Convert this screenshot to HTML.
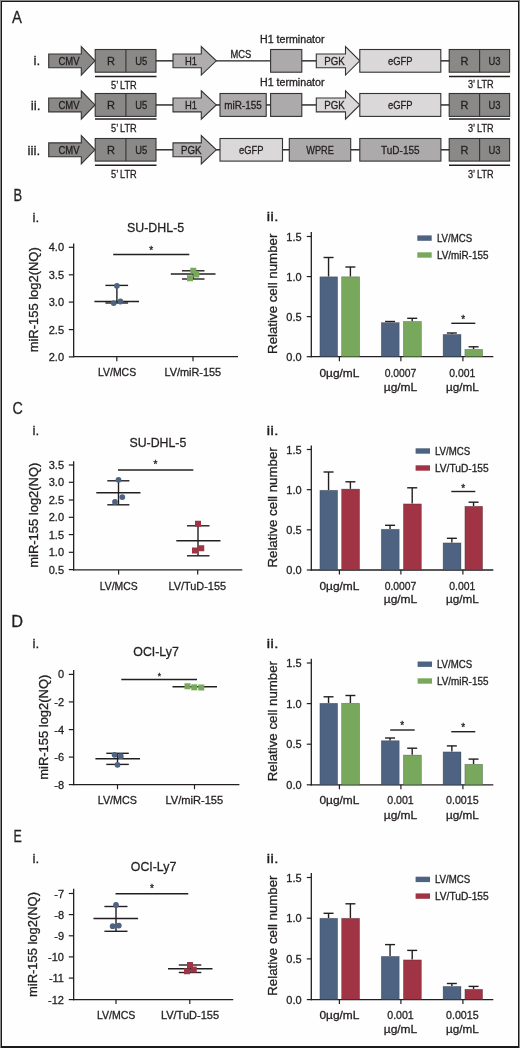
<!DOCTYPE html>
<html><head><meta charset="utf-8">
<style>
html,body{margin:0;padding:0;background:#fff;}
body{width:520px;height:1048px;overflow:hidden;position:relative;}
#frame{position:absolute;left:0;top:0;width:520px;height:1048px;background:#8a8a8a;}
#inner{position:absolute;left:1px;top:1px;width:518px;height:1047px;background:#1a1a1a;}
#white{position:absolute;left:2px;top:2px;width:516px;height:1044px;background:#fefefe;}
svg{position:absolute;left:0;top:0;will-change:transform;}
text{font-family:"Liberation Sans", sans-serif;fill:#231f20;stroke:#231f20;stroke-width:0.3px;}
</style></head><body>
<div id="frame"></div><div id="inner"></div><div id="white"></div>
<svg width="520" height="1048" viewBox="0 0 520 1048">
<text x="12.00" y="23.00" font-size="16" textLength="9.90" lengthAdjust="spacingAndGlyphs">A</text>
<polygon points="48.70,53.95 81.30,53.95 81.30,46.65 95.00,60.85 81.30,75.05 81.30,67.75 48.70,67.75" fill="#8a8988" stroke="#333" stroke-width="1.1" stroke-linejoin="miter"/>
<text x="69.00" y="65.00" font-size="10.5" text-anchor="middle" textLength="21.00" lengthAdjust="spacingAndGlyphs">CMV</text>
<text x="33.60" y="65.00" font-size="13.5">i.</text>
<rect x="95.20" y="49.50" width="60.80" height="22.70" fill="#8a8988" stroke="#333" stroke-width="1.1"/>
<line x1="125.90" y1="49.50" x2="125.90" y2="72.20" stroke="#333" stroke-width="1.1"/>
<text x="111.00" y="65.00" font-size="11" text-anchor="middle">R</text>
<text x="141.20" y="65.00" font-size="11" text-anchor="middle" textLength="12.00" lengthAdjust="spacingAndGlyphs">U5</text>
<line x1="95.00" y1="76.60" x2="156.50" y2="76.60" stroke="#231f20" stroke-width="1.5"/>
<text x="111.00" y="88.80" font-size="10.5" textLength="25.80" lengthAdjust="spacingAndGlyphs">5’ LTR</text>
<rect x="449.20" y="49.50" width="60.40" height="22.70" fill="#8a8988" stroke="#333" stroke-width="1.1"/>
<line x1="479.60" y1="49.50" x2="479.60" y2="72.20" stroke="#333" stroke-width="1.1"/>
<text x="464.40" y="65.00" font-size="11" text-anchor="middle">R</text>
<text x="494.60" y="65.00" font-size="11" text-anchor="middle" textLength="12.00" lengthAdjust="spacingAndGlyphs">U3</text>
<line x1="449.00" y1="76.60" x2="510.00" y2="76.60" stroke="#231f20" stroke-width="1.5"/>
<text x="468.00" y="87.80" font-size="10.5" textLength="25.60" lengthAdjust="spacingAndGlyphs">3’ LTR</text>
<line x1="156.00" y1="60.85" x2="173.50" y2="60.85" stroke="#231f20" stroke-width="1.4"/>
<line x1="216.00" y1="60.85" x2="270.50" y2="60.85" stroke="#231f20" stroke-width="1.4"/>
<line x1="301.80" y1="60.85" x2="316.50" y2="60.85" stroke="#231f20" stroke-width="1.4"/>
<line x1="441.00" y1="60.85" x2="449.20" y2="60.85" stroke="#231f20" stroke-width="1.4"/>
<polygon points="173.00,53.95 201.30,53.95 201.30,46.65 216.30,60.85 201.30,75.05 201.30,67.75 173.00,67.75" fill="#b0adae" stroke="#333" stroke-width="1.1" stroke-linejoin="miter"/>
<text x="191.00" y="65.00" font-size="11" text-anchor="middle" textLength="12.00" lengthAdjust="spacingAndGlyphs">H1</text>
<text x="230.50" y="57.50" font-size="10" textLength="20.80" lengthAdjust="spacingAndGlyphs">MCS</text>
<rect x="270.60" y="49.50" width="31.20" height="22.70" fill="#adaaab" stroke="#333" stroke-width="1.1"/>
<text x="260.00" y="42.50" font-size="10" textLength="64.50" lengthAdjust="spacingAndGlyphs">H1 terminator</text>
<polygon points="316.30,53.95 345.50,53.95 345.50,46.65 359.80,60.85 345.50,75.05 345.50,67.75 316.30,67.75" fill="#dbd8d9" stroke="#333" stroke-width="1.1" stroke-linejoin="miter"/>
<text x="334.60" y="65.00" font-size="11" text-anchor="middle" textLength="20.50" lengthAdjust="spacingAndGlyphs">PGK</text>
<rect x="359.80" y="49.50" width="81.00" height="22.70" fill="#dbd8d9" stroke="#333" stroke-width="1.1"/>
<text x="400.30" y="65.00" font-size="11" text-anchor="middle" textLength="24.50" lengthAdjust="spacingAndGlyphs">eGFP</text>
<polygon points="48.70,98.05 81.30,98.05 81.30,90.75 95.00,104.95 81.30,119.15 81.30,111.85 48.70,111.85" fill="#8a8988" stroke="#333" stroke-width="1.1" stroke-linejoin="miter"/>
<text x="69.00" y="109.00" font-size="10.5" text-anchor="middle" textLength="21.00" lengthAdjust="spacingAndGlyphs">CMV</text>
<text x="30.80" y="110.00" font-size="13.5">ii.</text>
<rect x="95.20" y="93.50" width="60.80" height="22.90" fill="#8a8988" stroke="#333" stroke-width="1.1"/>
<line x1="125.90" y1="93.50" x2="125.90" y2="116.40" stroke="#333" stroke-width="1.1"/>
<text x="111.00" y="109.00" font-size="11" text-anchor="middle">R</text>
<text x="141.20" y="109.00" font-size="11" text-anchor="middle" textLength="12.00" lengthAdjust="spacingAndGlyphs">U5</text>
<line x1="95.00" y1="118.90" x2="156.50" y2="118.90" stroke="#231f20" stroke-width="1.5"/>
<text x="111.00" y="132.00" font-size="10.5" textLength="25.80" lengthAdjust="spacingAndGlyphs">5’ LTR</text>
<rect x="449.20" y="93.50" width="60.40" height="22.90" fill="#8a8988" stroke="#333" stroke-width="1.1"/>
<line x1="479.60" y1="93.50" x2="479.60" y2="116.40" stroke="#333" stroke-width="1.1"/>
<text x="464.40" y="109.00" font-size="11" text-anchor="middle">R</text>
<text x="494.60" y="109.00" font-size="11" text-anchor="middle" textLength="12.00" lengthAdjust="spacingAndGlyphs">U3</text>
<line x1="449.00" y1="118.90" x2="510.00" y2="118.90" stroke="#231f20" stroke-width="1.5"/>
<text x="468.00" y="131.60" font-size="10.5" textLength="25.60" lengthAdjust="spacingAndGlyphs">3’ LTR</text>
<line x1="156.00" y1="104.95" x2="173.50" y2="104.95" stroke="#231f20" stroke-width="1.4"/>
<line x1="216.00" y1="104.95" x2="220.50" y2="104.95" stroke="#231f20" stroke-width="1.4"/>
<line x1="266.00" y1="104.95" x2="270.50" y2="104.95" stroke="#231f20" stroke-width="1.4"/>
<line x1="301.80" y1="104.95" x2="316.50" y2="104.95" stroke="#231f20" stroke-width="1.4"/>
<line x1="441.00" y1="104.95" x2="449.20" y2="104.95" stroke="#231f20" stroke-width="1.4"/>
<polygon points="173.00,98.05 201.30,98.05 201.30,90.75 216.30,104.95 201.30,119.15 201.30,111.85 173.00,111.85" fill="#b0adae" stroke="#333" stroke-width="1.1" stroke-linejoin="miter"/>
<text x="191.00" y="109.00" font-size="11" text-anchor="middle" textLength="12.00" lengthAdjust="spacingAndGlyphs">H1</text>
<rect x="220.00" y="93.50" width="46.20" height="22.90" fill="#adaaab" stroke="#333" stroke-width="1.1"/>
<text x="243.10" y="109.00" font-size="11" text-anchor="middle" textLength="37.50" lengthAdjust="spacingAndGlyphs">miR-155</text>
<rect x="270.60" y="93.50" width="31.20" height="22.90" fill="#adaaab" stroke="#333" stroke-width="1.1"/>
<text x="260.00" y="85.50" font-size="10" textLength="64.50" lengthAdjust="spacingAndGlyphs">H1 terminator</text>
<polygon points="316.30,98.05 345.50,98.05 345.50,90.75 359.80,104.95 345.50,119.15 345.50,111.85 316.30,111.85" fill="#dbd8d9" stroke="#333" stroke-width="1.1" stroke-linejoin="miter"/>
<text x="334.60" y="109.00" font-size="11" text-anchor="middle" textLength="20.50" lengthAdjust="spacingAndGlyphs">PGK</text>
<rect x="359.80" y="93.50" width="81.00" height="22.90" fill="#dbd8d9" stroke="#333" stroke-width="1.1"/>
<text x="400.30" y="109.00" font-size="11" text-anchor="middle" textLength="24.50" lengthAdjust="spacingAndGlyphs">eGFP</text>
<polygon points="48.70,142.90 81.30,142.90 81.30,135.60 95.00,149.80 81.30,164.00 81.30,156.70 48.70,156.70" fill="#8a8988" stroke="#333" stroke-width="1.1" stroke-linejoin="miter"/>
<text x="69.00" y="154.00" font-size="10.5" text-anchor="middle" textLength="21.00" lengthAdjust="spacingAndGlyphs">CMV</text>
<text x="27.60" y="155.00" font-size="13.5">iii.</text>
<rect x="95.20" y="138.50" width="60.80" height="22.60" fill="#8a8988" stroke="#333" stroke-width="1.1"/>
<line x1="125.90" y1="138.50" x2="125.90" y2="161.10" stroke="#333" stroke-width="1.1"/>
<text x="111.00" y="154.00" font-size="11" text-anchor="middle">R</text>
<text x="141.20" y="154.00" font-size="11" text-anchor="middle" textLength="12.00" lengthAdjust="spacingAndGlyphs">U5</text>
<line x1="95.00" y1="165.30" x2="156.50" y2="165.30" stroke="#231f20" stroke-width="1.5"/>
<text x="111.00" y="178.00" font-size="10.5" textLength="25.80" lengthAdjust="spacingAndGlyphs">5’ LTR</text>
<rect x="449.20" y="138.50" width="60.40" height="22.60" fill="#8a8988" stroke="#333" stroke-width="1.1"/>
<line x1="479.60" y1="138.50" x2="479.60" y2="161.10" stroke="#333" stroke-width="1.1"/>
<text x="464.40" y="154.00" font-size="11" text-anchor="middle">R</text>
<text x="494.60" y="154.00" font-size="11" text-anchor="middle" textLength="12.00" lengthAdjust="spacingAndGlyphs">U3</text>
<line x1="449.00" y1="165.30" x2="510.00" y2="165.30" stroke="#231f20" stroke-width="1.5"/>
<text x="468.00" y="178.00" font-size="10.5" textLength="25.60" lengthAdjust="spacingAndGlyphs">3’ LTR</text>
<line x1="156.00" y1="149.80" x2="173.50" y2="149.80" stroke="#231f20" stroke-width="1.4"/>
<line x1="216.00" y1="149.80" x2="220.50" y2="149.80" stroke="#231f20" stroke-width="1.4"/>
<line x1="282.50" y1="149.80" x2="289.50" y2="149.80" stroke="#231f20" stroke-width="1.4"/>
<line x1="350.70" y1="149.80" x2="360.00" y2="149.80" stroke="#231f20" stroke-width="1.4"/>
<line x1="441.00" y1="149.80" x2="449.20" y2="149.80" stroke="#231f20" stroke-width="1.4"/>
<polygon points="173.00,142.90 201.30,142.90 201.30,135.60 216.30,149.80 201.30,164.00 201.30,156.70 173.00,156.70" fill="#b0adae" stroke="#333" stroke-width="1.1" stroke-linejoin="miter"/>
<text x="191.30" y="154.00" font-size="11" text-anchor="middle" textLength="20.50" lengthAdjust="spacingAndGlyphs">PGK</text>
<rect x="220.00" y="138.50" width="62.50" height="22.60" fill="#dbd8d9" stroke="#333" stroke-width="1.1"/>
<text x="251.20" y="154.00" font-size="11" text-anchor="middle" textLength="24.50" lengthAdjust="spacingAndGlyphs">eGFP</text>
<rect x="289.30" y="138.50" width="61.40" height="22.60" fill="#adaaab" stroke="#333" stroke-width="1.1"/>
<text x="320.00" y="154.00" font-size="11" text-anchor="middle" textLength="27.50" lengthAdjust="spacingAndGlyphs">WPRE</text>
<rect x="359.80" y="138.50" width="81.10" height="22.60" fill="#adaaab" stroke="#333" stroke-width="1.1"/>
<text x="400.30" y="154.00" font-size="11" text-anchor="middle" textLength="38.50" lengthAdjust="spacingAndGlyphs">TuD-155</text>
<text x="13.50" y="200.50" font-size="16.5" textLength="8.60" lengthAdjust="spacingAndGlyphs">B</text>
<text x="32.60" y="222.00" font-size="13.5">i.</text>
<line x1="73.65" y1="243.50" x2="73.65" y2="357.30" stroke="#231f20" stroke-width="1.3"/>
<line x1="73.00" y1="356.70" x2="238.00" y2="356.70" stroke="#231f20" stroke-width="1.3"/>
<line x1="68.80" y1="247.30" x2="73.65" y2="247.30" stroke="#231f20" stroke-width="1.2"/>
<text x="64.00" y="251.30" font-size="11" text-anchor="end">4.0</text>
<line x1="68.80" y1="274.80" x2="73.65" y2="274.80" stroke="#231f20" stroke-width="1.2"/>
<text x="64.00" y="278.80" font-size="11" text-anchor="end">3.5</text>
<line x1="68.80" y1="302.10" x2="73.65" y2="302.10" stroke="#231f20" stroke-width="1.2"/>
<text x="64.00" y="306.10" font-size="11" text-anchor="end">3.0</text>
<line x1="68.80" y1="329.60" x2="73.65" y2="329.60" stroke="#231f20" stroke-width="1.2"/>
<text x="64.00" y="333.60" font-size="11" text-anchor="end">2.5</text>
<line x1="68.80" y1="356.90" x2="73.65" y2="356.90" stroke="#231f20" stroke-width="1.2"/>
<text x="64.00" y="360.90" font-size="11" text-anchor="end">2.0</text>
<line x1="116.80" y1="356.70" x2="116.80" y2="361.20" stroke="#231f20" stroke-width="1.2"/>
<line x1="193.00" y1="356.70" x2="193.00" y2="361.20" stroke="#231f20" stroke-width="1.2"/>
<text x="127.00" y="231.90" font-size="13.6" textLength="57.20" lengthAdjust="spacingAndGlyphs">SU-DHL-5</text>
<text x="98.00" y="376.30" font-size="11" textLength="38.10" lengthAdjust="spacingAndGlyphs">LV/MCS</text>
<text x="164.40" y="376.30" font-size="11" textLength="56.80" lengthAdjust="spacingAndGlyphs">LV/miR-155</text>
<text x="38.00" y="299.80" font-size="13" text-anchor="middle" textLength="105.00" lengthAdjust="spacingAndGlyphs" transform="rotate(-90 38.00 299.80)">miR-155 log2(NQ)</text>
<line x1="113.20" y1="254.50" x2="189.30" y2="254.50" stroke="#231f20" stroke-width="1.4"/>
<text x="151.30" y="253.90" font-size="10" text-anchor="middle">*</text>
<line x1="94.40" y1="301.50" x2="139.00" y2="301.50" stroke="#231f20" stroke-width="1.4"/>
<line x1="105.40" y1="285.40" x2="128.10" y2="285.40" stroke="#231f20" stroke-width="1.4"/>
<line x1="105.40" y1="303.00" x2="128.10" y2="303.00" stroke="#231f20" stroke-width="1.4"/>
<line x1="116.90" y1="285.40" x2="116.90" y2="303.00" stroke="#231f20" stroke-width="1.4"/>
<circle cx="116.90" cy="285.80" r="2.9" fill="#4e6381"/>
<circle cx="113.70" cy="303.10" r="2.9" fill="#4e6381"/>
<circle cx="120.40" cy="301.50" r="2.9" fill="#4e6381"/>
<line x1="170.80" y1="274.00" x2="215.50" y2="274.00" stroke="#231f20" stroke-width="1.4"/>
<line x1="182.00" y1="270.80" x2="204.50" y2="270.80" stroke="#231f20" stroke-width="1.4"/>
<line x1="182.00" y1="279.00" x2="204.50" y2="279.00" stroke="#231f20" stroke-width="1.4"/>
<line x1="193.20" y1="270.80" x2="193.20" y2="279.00" stroke="#231f20" stroke-width="1.4"/>
<rect x="190.25" y="267.75" width="6.0" height="6.0" fill="#78a85c"/>
<rect x="193.25" y="271.50" width="6.0" height="6.0" fill="#78a85c"/>
<rect x="187.00" y="275.25" width="6.0" height="6.0" fill="#78a85c"/>
<text x="12.60" y="414.00" font-size="16.5" textLength="10.30" lengthAdjust="spacingAndGlyphs">C</text>
<text x="32.60" y="435.00" font-size="13.5">i.</text>
<line x1="73.65" y1="461.20" x2="73.65" y2="570.50" stroke="#231f20" stroke-width="1.3"/>
<line x1="73.00" y1="569.90" x2="242.30" y2="569.90" stroke="#231f20" stroke-width="1.3"/>
<line x1="68.80" y1="465.00" x2="73.65" y2="465.00" stroke="#231f20" stroke-width="1.2"/>
<text x="64.00" y="469.00" font-size="11" text-anchor="end">3.5</text>
<line x1="68.80" y1="482.30" x2="73.65" y2="482.30" stroke="#231f20" stroke-width="1.2"/>
<text x="64.00" y="486.30" font-size="11" text-anchor="end">3.0</text>
<line x1="68.80" y1="500.00" x2="73.65" y2="500.00" stroke="#231f20" stroke-width="1.2"/>
<text x="64.00" y="504.00" font-size="11" text-anchor="end">2.5</text>
<line x1="68.80" y1="517.30" x2="73.65" y2="517.30" stroke="#231f20" stroke-width="1.2"/>
<text x="64.00" y="521.30" font-size="11" text-anchor="end">2.0</text>
<line x1="68.80" y1="534.60" x2="73.65" y2="534.60" stroke="#231f20" stroke-width="1.2"/>
<text x="64.00" y="538.60" font-size="11" text-anchor="end">1.5</text>
<line x1="68.80" y1="552.30" x2="73.65" y2="552.30" stroke="#231f20" stroke-width="1.2"/>
<text x="64.00" y="556.30" font-size="11" text-anchor="end">1.0</text>
<line x1="68.80" y1="569.60" x2="73.65" y2="569.60" stroke="#231f20" stroke-width="1.2"/>
<text x="64.00" y="573.60" font-size="11" text-anchor="end">0.5</text>
<line x1="118.60" y1="569.90" x2="118.60" y2="574.40" stroke="#231f20" stroke-width="1.2"/>
<line x1="197.70" y1="569.90" x2="197.70" y2="574.40" stroke="#231f20" stroke-width="1.2"/>
<text x="129.50" y="447.40" font-size="13.6" textLength="56.80" lengthAdjust="spacingAndGlyphs">SU-DHL-5</text>
<text x="99.80" y="589.80" font-size="11" textLength="37.90" lengthAdjust="spacingAndGlyphs">LV/MCS</text>
<text x="168.50" y="589.80" font-size="11" textLength="57.50" lengthAdjust="spacingAndGlyphs">LV/TuD-155</text>
<text x="37.80" y="515.20" font-size="13" text-anchor="middle" textLength="105.00" lengthAdjust="spacingAndGlyphs" transform="rotate(-90 37.80 515.20)">miR-155 log2(NQ)</text>
<line x1="118.00" y1="470.00" x2="193.30" y2="470.00" stroke="#231f20" stroke-width="1.4"/>
<text x="155.50" y="468.20" font-size="10" text-anchor="middle">*</text>
<line x1="96.30" y1="492.70" x2="140.50" y2="492.70" stroke="#231f20" stroke-width="1.4"/>
<line x1="107.30" y1="480.80" x2="129.40" y2="480.80" stroke="#231f20" stroke-width="1.4"/>
<line x1="107.30" y1="504.80" x2="129.40" y2="504.80" stroke="#231f20" stroke-width="1.4"/>
<line x1="118.50" y1="480.80" x2="118.50" y2="504.80" stroke="#231f20" stroke-width="1.4"/>
<circle cx="118.50" cy="479.80" r="2.9" fill="#4e6381"/>
<circle cx="122.30" cy="497.10" r="2.9" fill="#4e6381"/>
<circle cx="115.00" cy="501.90" r="2.9" fill="#4e6381"/>
<line x1="176.30" y1="540.80" x2="220.50" y2="540.80" stroke="#231f20" stroke-width="1.4"/>
<line x1="187.00" y1="525.80" x2="209.50" y2="525.80" stroke="#231f20" stroke-width="1.4"/>
<line x1="187.00" y1="555.80" x2="209.50" y2="555.80" stroke="#231f20" stroke-width="1.4"/>
<line x1="198.00" y1="525.80" x2="198.00" y2="555.80" stroke="#231f20" stroke-width="1.4"/>
<rect x="195.00" y="520.75" width="6.0" height="6.0" fill="#a03444"/>
<rect x="198.25" y="545.25" width="6.0" height="6.0" fill="#a03444"/>
<rect x="192.00" y="547.50" width="6.0" height="6.0" fill="#a03444"/>
<text x="11.20" y="627.00" font-size="16.5" textLength="11.80" lengthAdjust="spacingAndGlyphs">D</text>
<text x="32.60" y="648.00" font-size="13.5">i.</text>
<line x1="73.65" y1="670.00" x2="73.65" y2="785.30" stroke="#231f20" stroke-width="1.3"/>
<line x1="73.00" y1="784.70" x2="239.40" y2="784.70" stroke="#231f20" stroke-width="1.3"/>
<line x1="68.80" y1="674.40" x2="73.65" y2="674.40" stroke="#231f20" stroke-width="1.2"/>
<text x="64.00" y="678.40" font-size="11" text-anchor="end">0</text>
<line x1="68.80" y1="701.90" x2="73.65" y2="701.90" stroke="#231f20" stroke-width="1.2"/>
<text x="64.00" y="705.90" font-size="11" text-anchor="end">-2</text>
<line x1="68.80" y1="729.60" x2="73.65" y2="729.60" stroke="#231f20" stroke-width="1.2"/>
<text x="64.00" y="733.60" font-size="11" text-anchor="end">-4</text>
<line x1="68.80" y1="757.10" x2="73.65" y2="757.10" stroke="#231f20" stroke-width="1.2"/>
<text x="64.00" y="761.10" font-size="11" text-anchor="end">-6</text>
<line x1="68.80" y1="784.60" x2="73.65" y2="784.60" stroke="#231f20" stroke-width="1.2"/>
<text x="64.00" y="788.60" font-size="11" text-anchor="end">-8</text>
<line x1="117.50" y1="784.70" x2="117.50" y2="789.20" stroke="#231f20" stroke-width="1.2"/>
<line x1="194.50" y1="784.70" x2="194.50" y2="789.20" stroke="#231f20" stroke-width="1.2"/>
<text x="133.30" y="656.40" font-size="13.6" textLength="45.50" lengthAdjust="spacingAndGlyphs">OCI-Ly7</text>
<text x="97.80" y="803.80" font-size="11" textLength="39.10" lengthAdjust="spacingAndGlyphs">LV/MCS</text>
<text x="165.50" y="803.80" font-size="11" textLength="57.60" lengthAdjust="spacingAndGlyphs">LV/miR-155</text>
<text x="48.20" y="727.20" font-size="13" text-anchor="middle" textLength="105.00" lengthAdjust="spacingAndGlyphs" transform="rotate(-90 48.20 727.20)">miR-155 log2(NQ)</text>
<line x1="121.30" y1="679.50" x2="197.00" y2="679.50" stroke="#231f20" stroke-width="1.4"/>
<text x="159.30" y="678.70" font-size="8.5" text-anchor="middle">*</text>
<line x1="95.40" y1="758.70" x2="140.00" y2="758.70" stroke="#231f20" stroke-width="1.4"/>
<line x1="106.30" y1="753.30" x2="128.80" y2="753.30" stroke="#231f20" stroke-width="1.4"/>
<line x1="106.30" y1="764.40" x2="128.80" y2="764.40" stroke="#231f20" stroke-width="1.4"/>
<line x1="117.50" y1="753.30" x2="117.50" y2="764.40" stroke="#231f20" stroke-width="1.4"/>
<circle cx="114.60" cy="754.80" r="2.9" fill="#4e6381"/>
<circle cx="120.80" cy="756.20" r="2.9" fill="#4e6381"/>
<circle cx="117.50" cy="764.80" r="2.9" fill="#4e6381"/>
<line x1="172.50" y1="686.80" x2="217.00" y2="686.80" stroke="#231f20" stroke-width="1.4"/>
<line x1="194.00" y1="686.80" x2="194.00" y2="686.80" stroke="#231f20" stroke-width="1.4"/>
<line x1="194.00" y1="686.80" x2="194.00" y2="686.80" stroke="#231f20" stroke-width="1.4"/>
<line x1="194.00" y1="686.80" x2="194.00" y2="686.80" stroke="#231f20" stroke-width="1.4"/>
<rect x="184.50" y="683.25" width="6.0" height="6.0" fill="#78a85c"/>
<rect x="191.25" y="684.30" width="6.0" height="6.0" fill="#78a85c"/>
<rect x="198.25" y="684.50" width="6.0" height="6.0" fill="#78a85c"/>
<text x="13.60" y="842.00" font-size="16.5" textLength="8.30" lengthAdjust="spacingAndGlyphs">E</text>
<text x="32.60" y="863.00" font-size="13.5">i.</text>
<line x1="73.65" y1="888.70" x2="73.65" y2="1000.20" stroke="#231f20" stroke-width="1.3"/>
<line x1="73.00" y1="999.60" x2="233.20" y2="999.60" stroke="#231f20" stroke-width="1.3"/>
<line x1="68.80" y1="893.50" x2="73.65" y2="893.50" stroke="#231f20" stroke-width="1.2"/>
<text x="64.00" y="897.50" font-size="11" text-anchor="end">-7</text>
<line x1="68.80" y1="914.60" x2="73.65" y2="914.60" stroke="#231f20" stroke-width="1.2"/>
<text x="64.00" y="918.60" font-size="11" text-anchor="end">-8</text>
<line x1="68.80" y1="935.80" x2="73.65" y2="935.80" stroke="#231f20" stroke-width="1.2"/>
<text x="64.00" y="939.80" font-size="11" text-anchor="end">-9</text>
<line x1="68.80" y1="956.90" x2="73.65" y2="956.90" stroke="#231f20" stroke-width="1.2"/>
<text x="64.00" y="960.90" font-size="11" text-anchor="end">-10</text>
<line x1="68.80" y1="978.10" x2="73.65" y2="978.10" stroke="#231f20" stroke-width="1.2"/>
<text x="64.00" y="982.10" font-size="11" text-anchor="end">-11</text>
<line x1="68.80" y1="999.60" x2="73.65" y2="999.60" stroke="#231f20" stroke-width="1.2"/>
<text x="64.00" y="1003.60" font-size="11" text-anchor="end">-12</text>
<line x1="116.00" y1="999.60" x2="116.00" y2="1004.10" stroke="#231f20" stroke-width="1.2"/>
<line x1="189.80" y1="999.60" x2="189.80" y2="1004.10" stroke="#231f20" stroke-width="1.2"/>
<text x="130.80" y="870.70" font-size="13.6" textLength="45.50" lengthAdjust="spacingAndGlyphs">OCI-Ly7</text>
<text x="96.90" y="1019.20" font-size="11" textLength="38.50" lengthAdjust="spacingAndGlyphs">LV/MCS</text>
<text x="160.90" y="1019.20" font-size="11" textLength="58.20" lengthAdjust="spacingAndGlyphs">LV/TuD-155</text>
<text x="37.00" y="944.50" font-size="13" text-anchor="middle" textLength="105.00" lengthAdjust="spacingAndGlyphs" transform="rotate(-90 37.00 944.50)">miR-155 log2(NQ)</text>
<line x1="115.50" y1="893.80" x2="188.30" y2="893.80" stroke="#231f20" stroke-width="1.4"/>
<text x="152.00" y="891.90" font-size="10" text-anchor="middle">*</text>
<line x1="93.50" y1="918.50" x2="138.10" y2="918.50" stroke="#231f20" stroke-width="1.4"/>
<line x1="104.40" y1="906.50" x2="127.50" y2="906.50" stroke="#231f20" stroke-width="1.4"/>
<line x1="104.40" y1="931.30" x2="127.50" y2="931.30" stroke="#231f20" stroke-width="1.4"/>
<line x1="116.00" y1="906.50" x2="116.00" y2="931.30" stroke="#231f20" stroke-width="1.4"/>
<circle cx="116.00" cy="905.00" r="2.9" fill="#4e6381"/>
<circle cx="112.70" cy="926.20" r="2.9" fill="#4e6381"/>
<circle cx="118.80" cy="925.60" r="2.9" fill="#4e6381"/>
<line x1="168.00" y1="968.80" x2="212.50" y2="968.80" stroke="#231f20" stroke-width="1.4"/>
<line x1="178.80" y1="965.00" x2="201.30" y2="965.00" stroke="#231f20" stroke-width="1.4"/>
<line x1="178.80" y1="972.50" x2="201.30" y2="972.50" stroke="#231f20" stroke-width="1.4"/>
<line x1="190.00" y1="965.00" x2="190.00" y2="972.50" stroke="#231f20" stroke-width="1.4"/>
<rect x="187.00" y="962.00" width="6.0" height="6.0" fill="#a03444"/>
<rect x="190.75" y="966.50" width="6.0" height="6.0" fill="#a03444"/>
<rect x="184.00" y="968.25" width="6.0" height="6.0" fill="#a03444"/>
<text x="266.60" y="221.30" font-size="13.5" textLength="12.00" lengthAdjust="spacingAndGlyphs">ii.</text>
<line x1="311.30" y1="232.00" x2="311.30" y2="357.30" stroke="#231f20" stroke-width="1.3"/>
<line x1="310.70" y1="356.70" x2="493.30" y2="356.70" stroke="#231f20" stroke-width="1.3"/>
<line x1="306.80" y1="236.50" x2="311.30" y2="236.50" stroke="#231f20" stroke-width="1.2"/>
<text x="301.60" y="240.50" font-size="11" text-anchor="end">1.5</text>
<line x1="306.80" y1="276.57" x2="311.30" y2="276.57" stroke="#231f20" stroke-width="1.2"/>
<text x="301.60" y="280.57" font-size="11" text-anchor="end">1.0</text>
<line x1="306.80" y1="316.63" x2="311.30" y2="316.63" stroke="#231f20" stroke-width="1.2"/>
<text x="301.60" y="320.63" font-size="11" text-anchor="end">0.5</text>
<line x1="306.80" y1="356.70" x2="311.30" y2="356.70" stroke="#231f20" stroke-width="1.2"/>
<text x="301.60" y="360.70" font-size="11" text-anchor="end">0.0</text>
<line x1="339.40" y1="356.70" x2="339.40" y2="361.20" stroke="#231f20" stroke-width="1.2"/>
<line x1="400.90" y1="356.70" x2="400.90" y2="361.20" stroke="#231f20" stroke-width="1.2"/>
<line x1="462.90" y1="356.70" x2="462.90" y2="361.20" stroke="#231f20" stroke-width="1.2"/>
<text x="277.00" y="293.80" font-size="13" text-anchor="middle" textLength="120.30" lengthAdjust="spacingAndGlyphs" transform="rotate(-90 277.00 293.80)">Relative cell number</text>
<rect x="417.30" y="235.40" width="14.40" height="5.40" fill="#4e6381"/>
<text x="436.90" y="241.60" font-size="10" textLength="35.20" lengthAdjust="spacingAndGlyphs">LV/MCS</text>
<rect x="417.30" y="252.30" width="14.40" height="5.40" fill="#78a85c"/>
<text x="436.90" y="258.50" font-size="10" textLength="51.50" lengthAdjust="spacingAndGlyphs">LV/miR-155</text>
<line x1="328.55" y1="257.50" x2="328.55" y2="276.50" stroke="#231f20" stroke-width="1.4"/>
<line x1="323.55" y1="257.50" x2="333.55" y2="257.50" stroke="#231f20" stroke-width="1.4"/>
<rect x="319.90" y="276.80" width="17.70" height="79.90" fill="#4e6381" stroke="rgba(20,20,30,0.35)" stroke-width="0.7"/>
<line x1="350.40" y1="267.00" x2="350.40" y2="276.50" stroke="#231f20" stroke-width="1.4"/>
<line x1="345.40" y1="267.00" x2="355.40" y2="267.00" stroke="#231f20" stroke-width="1.4"/>
<rect x="341.60" y="276.80" width="18.00" height="79.90" fill="#78a85c" stroke="rgba(20,20,30,0.35)" stroke-width="0.7"/>
<line x1="390.05" y1="321.50" x2="390.05" y2="322.30" stroke="#231f20" stroke-width="1.4"/>
<line x1="385.05" y1="321.50" x2="395.05" y2="321.50" stroke="#231f20" stroke-width="1.4"/>
<rect x="381.30" y="322.60" width="17.90" height="34.10" fill="#4e6381" stroke="rgba(20,20,30,0.35)" stroke-width="0.7"/>
<line x1="412.20" y1="318.30" x2="412.20" y2="321.20" stroke="#231f20" stroke-width="1.4"/>
<line x1="407.20" y1="318.30" x2="417.20" y2="318.30" stroke="#231f20" stroke-width="1.4"/>
<rect x="403.40" y="321.50" width="18.00" height="35.20" fill="#78a85c" stroke="rgba(20,20,30,0.35)" stroke-width="0.7"/>
<line x1="451.85" y1="333.00" x2="451.85" y2="334.10" stroke="#231f20" stroke-width="1.4"/>
<line x1="446.85" y1="333.00" x2="456.85" y2="333.00" stroke="#231f20" stroke-width="1.4"/>
<rect x="443.10" y="334.40" width="17.90" height="22.30" fill="#4e6381" stroke="rgba(20,20,30,0.35)" stroke-width="0.7"/>
<line x1="473.55" y1="346.80" x2="473.55" y2="349.10" stroke="#231f20" stroke-width="1.4"/>
<line x1="468.55" y1="346.80" x2="478.55" y2="346.80" stroke="#231f20" stroke-width="1.4"/>
<rect x="464.90" y="349.40" width="17.70" height="7.30" fill="#78a85c" stroke="rgba(20,20,30,0.35)" stroke-width="0.7"/>
<line x1="451.30" y1="323.30" x2="475.30" y2="323.30" stroke="#231f20" stroke-width="1.4"/>
<text x="463.20" y="322.60" font-size="10" text-anchor="middle">*</text>
<text x="339.40" y="377.00" font-size="11" text-anchor="middle" textLength="40.00" lengthAdjust="spacingAndGlyphs">0µg/mL</text>
<text x="400.50" y="377.00" font-size="11" text-anchor="middle" textLength="31.70" lengthAdjust="spacingAndGlyphs">0.0007</text>
<text x="400.50" y="390.80" font-size="11" text-anchor="middle" textLength="33.50" lengthAdjust="spacingAndGlyphs">µg/mL</text>
<text x="462.30" y="377.00" font-size="11" text-anchor="middle" textLength="26.00" lengthAdjust="spacingAndGlyphs">0.001</text>
<text x="462.30" y="390.80" font-size="11" text-anchor="middle" textLength="32.80" lengthAdjust="spacingAndGlyphs">µg/mL</text>
<text x="266.60" y="435.00" font-size="13.5" textLength="12.00" lengthAdjust="spacingAndGlyphs">ii.</text>
<line x1="311.30" y1="445.50" x2="311.30" y2="570.60" stroke="#231f20" stroke-width="1.3"/>
<line x1="310.70" y1="570.00" x2="493.30" y2="570.00" stroke="#231f20" stroke-width="1.3"/>
<line x1="306.80" y1="449.50" x2="311.30" y2="449.50" stroke="#231f20" stroke-width="1.2"/>
<text x="301.60" y="453.50" font-size="11" text-anchor="end">1.5</text>
<line x1="306.80" y1="489.67" x2="311.30" y2="489.67" stroke="#231f20" stroke-width="1.2"/>
<text x="301.60" y="493.67" font-size="11" text-anchor="end">1.0</text>
<line x1="306.80" y1="529.83" x2="311.30" y2="529.83" stroke="#231f20" stroke-width="1.2"/>
<text x="301.60" y="533.83" font-size="11" text-anchor="end">0.5</text>
<line x1="306.80" y1="570.00" x2="311.30" y2="570.00" stroke="#231f20" stroke-width="1.2"/>
<text x="301.60" y="574.00" font-size="11" text-anchor="end">0.0</text>
<line x1="339.40" y1="570.00" x2="339.40" y2="574.50" stroke="#231f20" stroke-width="1.2"/>
<line x1="400.90" y1="570.00" x2="400.90" y2="574.50" stroke="#231f20" stroke-width="1.2"/>
<line x1="462.90" y1="570.00" x2="462.90" y2="574.50" stroke="#231f20" stroke-width="1.2"/>
<text x="277.00" y="507.40" font-size="13" text-anchor="middle" textLength="120.30" lengthAdjust="spacingAndGlyphs" transform="rotate(-90 277.00 507.40)">Relative cell number</text>
<rect x="415.60" y="448.30" width="14.40" height="5.40" fill="#4e6381"/>
<text x="434.90" y="454.50" font-size="10" textLength="35.20" lengthAdjust="spacingAndGlyphs">LV/MCS</text>
<rect x="415.60" y="465.30" width="14.40" height="5.40" fill="#a03444"/>
<text x="434.90" y="471.50" font-size="10" textLength="53.80" lengthAdjust="spacingAndGlyphs">LV/TuD-155</text>
<line x1="328.55" y1="472.00" x2="328.55" y2="490.00" stroke="#231f20" stroke-width="1.4"/>
<line x1="323.55" y1="472.00" x2="333.55" y2="472.00" stroke="#231f20" stroke-width="1.4"/>
<rect x="319.90" y="490.30" width="17.70" height="79.70" fill="#4e6381" stroke="rgba(20,20,30,0.35)" stroke-width="0.7"/>
<line x1="350.40" y1="481.80" x2="350.40" y2="488.80" stroke="#231f20" stroke-width="1.4"/>
<line x1="345.40" y1="481.80" x2="355.40" y2="481.80" stroke="#231f20" stroke-width="1.4"/>
<rect x="341.60" y="489.10" width="18.00" height="80.90" fill="#a03444" stroke="rgba(20,20,30,0.35)" stroke-width="0.7"/>
<line x1="390.05" y1="525.30" x2="390.05" y2="529.00" stroke="#231f20" stroke-width="1.4"/>
<line x1="385.05" y1="525.30" x2="395.05" y2="525.30" stroke="#231f20" stroke-width="1.4"/>
<rect x="381.30" y="529.30" width="17.90" height="40.70" fill="#4e6381" stroke="rgba(20,20,30,0.35)" stroke-width="0.7"/>
<line x1="412.20" y1="487.80" x2="412.20" y2="503.60" stroke="#231f20" stroke-width="1.4"/>
<line x1="407.20" y1="487.80" x2="417.20" y2="487.80" stroke="#231f20" stroke-width="1.4"/>
<rect x="403.40" y="503.90" width="18.00" height="66.10" fill="#a03444" stroke="rgba(20,20,30,0.35)" stroke-width="0.7"/>
<line x1="451.85" y1="538.30" x2="451.85" y2="542.60" stroke="#231f20" stroke-width="1.4"/>
<line x1="446.85" y1="538.30" x2="456.85" y2="538.30" stroke="#231f20" stroke-width="1.4"/>
<rect x="443.10" y="542.90" width="17.90" height="27.10" fill="#4e6381" stroke="rgba(20,20,30,0.35)" stroke-width="0.7"/>
<line x1="473.55" y1="502.20" x2="473.55" y2="506.00" stroke="#231f20" stroke-width="1.4"/>
<line x1="468.55" y1="502.20" x2="478.55" y2="502.20" stroke="#231f20" stroke-width="1.4"/>
<rect x="464.90" y="506.30" width="17.70" height="63.70" fill="#a03444" stroke="rgba(20,20,30,0.35)" stroke-width="0.7"/>
<line x1="451.30" y1="491.50" x2="475.30" y2="491.50" stroke="#231f20" stroke-width="1.4"/>
<text x="463.20" y="491.60" font-size="10" text-anchor="middle">*</text>
<text x="339.40" y="589.60" font-size="11" text-anchor="middle" textLength="40.00" lengthAdjust="spacingAndGlyphs">0µg/mL</text>
<text x="400.50" y="589.60" font-size="11" text-anchor="middle" textLength="31.70" lengthAdjust="spacingAndGlyphs">0.0007</text>
<text x="400.50" y="603.00" font-size="11" text-anchor="middle" textLength="33.50" lengthAdjust="spacingAndGlyphs">µg/mL</text>
<text x="462.30" y="589.60" font-size="11" text-anchor="middle" textLength="26.00" lengthAdjust="spacingAndGlyphs">0.001</text>
<text x="462.30" y="603.00" font-size="11" text-anchor="middle" textLength="32.80" lengthAdjust="spacingAndGlyphs">µg/mL</text>
<text x="266.60" y="648.00" font-size="13.5" textLength="12.00" lengthAdjust="spacingAndGlyphs">ii.</text>
<line x1="311.30" y1="658.80" x2="311.30" y2="785.40" stroke="#231f20" stroke-width="1.3"/>
<line x1="310.70" y1="784.80" x2="493.30" y2="784.80" stroke="#231f20" stroke-width="1.3"/>
<line x1="306.80" y1="663.00" x2="311.30" y2="663.00" stroke="#231f20" stroke-width="1.2"/>
<text x="301.60" y="667.00" font-size="11" text-anchor="end">1.5</text>
<line x1="306.80" y1="703.60" x2="311.30" y2="703.60" stroke="#231f20" stroke-width="1.2"/>
<text x="301.60" y="707.60" font-size="11" text-anchor="end">1.0</text>
<line x1="306.80" y1="744.20" x2="311.30" y2="744.20" stroke="#231f20" stroke-width="1.2"/>
<text x="301.60" y="748.20" font-size="11" text-anchor="end">0.5</text>
<line x1="306.80" y1="784.80" x2="311.30" y2="784.80" stroke="#231f20" stroke-width="1.2"/>
<text x="301.60" y="788.80" font-size="11" text-anchor="end">0.0</text>
<line x1="339.40" y1="784.80" x2="339.40" y2="789.30" stroke="#231f20" stroke-width="1.2"/>
<line x1="400.90" y1="784.80" x2="400.90" y2="789.30" stroke="#231f20" stroke-width="1.2"/>
<line x1="462.90" y1="784.80" x2="462.90" y2="789.30" stroke="#231f20" stroke-width="1.2"/>
<text x="277.00" y="721.10" font-size="13" text-anchor="middle" textLength="120.30" lengthAdjust="spacingAndGlyphs" transform="rotate(-90 277.00 721.10)">Relative cell number</text>
<rect x="417.60" y="661.50" width="14.40" height="5.40" fill="#4e6381"/>
<text x="436.90" y="667.70" font-size="10" textLength="35.20" lengthAdjust="spacingAndGlyphs">LV/MCS</text>
<rect x="417.60" y="678.30" width="14.40" height="5.40" fill="#78a85c"/>
<text x="436.90" y="684.50" font-size="10" textLength="51.50" lengthAdjust="spacingAndGlyphs">LV/miR-155</text>
<line x1="328.55" y1="696.80" x2="328.55" y2="703.00" stroke="#231f20" stroke-width="1.4"/>
<line x1="323.55" y1="696.80" x2="333.55" y2="696.80" stroke="#231f20" stroke-width="1.4"/>
<rect x="319.90" y="703.30" width="17.70" height="81.50" fill="#4e6381" stroke="rgba(20,20,30,0.35)" stroke-width="0.7"/>
<line x1="350.40" y1="695.50" x2="350.40" y2="703.00" stroke="#231f20" stroke-width="1.4"/>
<line x1="345.40" y1="695.50" x2="355.40" y2="695.50" stroke="#231f20" stroke-width="1.4"/>
<rect x="341.60" y="703.30" width="18.00" height="81.50" fill="#78a85c" stroke="rgba(20,20,30,0.35)" stroke-width="0.7"/>
<line x1="390.05" y1="738.00" x2="390.05" y2="740.40" stroke="#231f20" stroke-width="1.4"/>
<line x1="385.05" y1="738.00" x2="395.05" y2="738.00" stroke="#231f20" stroke-width="1.4"/>
<rect x="381.30" y="740.70" width="17.90" height="44.10" fill="#4e6381" stroke="rgba(20,20,30,0.35)" stroke-width="0.7"/>
<line x1="412.20" y1="748.20" x2="412.20" y2="754.80" stroke="#231f20" stroke-width="1.4"/>
<line x1="407.20" y1="748.20" x2="417.20" y2="748.20" stroke="#231f20" stroke-width="1.4"/>
<rect x="403.40" y="755.10" width="18.00" height="29.70" fill="#78a85c" stroke="rgba(20,20,30,0.35)" stroke-width="0.7"/>
<line x1="451.85" y1="745.90" x2="451.85" y2="751.60" stroke="#231f20" stroke-width="1.4"/>
<line x1="446.85" y1="745.90" x2="456.85" y2="745.90" stroke="#231f20" stroke-width="1.4"/>
<rect x="443.10" y="751.90" width="17.90" height="32.90" fill="#4e6381" stroke="rgba(20,20,30,0.35)" stroke-width="0.7"/>
<line x1="473.55" y1="759.10" x2="473.55" y2="764.00" stroke="#231f20" stroke-width="1.4"/>
<line x1="468.55" y1="759.10" x2="478.55" y2="759.10" stroke="#231f20" stroke-width="1.4"/>
<rect x="464.90" y="764.30" width="17.70" height="20.50" fill="#78a85c" stroke="rgba(20,20,30,0.35)" stroke-width="0.7"/>
<line x1="390.20" y1="730.00" x2="414.70" y2="730.00" stroke="#231f20" stroke-width="1.4"/>
<text x="402.30" y="728.80" font-size="10" text-anchor="middle">*</text>
<line x1="451.30" y1="731.70" x2="475.30" y2="731.70" stroke="#231f20" stroke-width="1.4"/>
<text x="463.20" y="730.60" font-size="10" text-anchor="middle">*</text>
<text x="339.40" y="804.40" font-size="11" text-anchor="middle" textLength="40.00" lengthAdjust="spacingAndGlyphs">0µg/mL</text>
<text x="400.50" y="804.40" font-size="11" text-anchor="middle" textLength="26.50" lengthAdjust="spacingAndGlyphs">0.001</text>
<text x="400.50" y="818.80" font-size="11" text-anchor="middle" textLength="33.50" lengthAdjust="spacingAndGlyphs">µg/mL</text>
<text x="462.30" y="804.40" font-size="11" text-anchor="middle" textLength="32.60" lengthAdjust="spacingAndGlyphs">0.0015</text>
<text x="462.30" y="818.80" font-size="11" text-anchor="middle" textLength="32.80" lengthAdjust="spacingAndGlyphs">µg/mL</text>
<text x="266.60" y="863.00" font-size="13.5" textLength="12.00" lengthAdjust="spacingAndGlyphs">ii.</text>
<line x1="311.30" y1="873.00" x2="311.30" y2="1000.20" stroke="#231f20" stroke-width="1.3"/>
<line x1="310.70" y1="999.60" x2="493.30" y2="999.60" stroke="#231f20" stroke-width="1.3"/>
<line x1="306.80" y1="877.50" x2="311.30" y2="877.50" stroke="#231f20" stroke-width="1.2"/>
<text x="301.60" y="881.50" font-size="11" text-anchor="end">1.5</text>
<line x1="306.80" y1="918.20" x2="311.30" y2="918.20" stroke="#231f20" stroke-width="1.2"/>
<text x="301.60" y="922.20" font-size="11" text-anchor="end">1.0</text>
<line x1="306.80" y1="958.90" x2="311.30" y2="958.90" stroke="#231f20" stroke-width="1.2"/>
<text x="301.60" y="962.90" font-size="11" text-anchor="end">0.5</text>
<line x1="306.80" y1="999.60" x2="311.30" y2="999.60" stroke="#231f20" stroke-width="1.2"/>
<text x="301.60" y="1003.60" font-size="11" text-anchor="end">0.0</text>
<line x1="339.40" y1="999.60" x2="339.40" y2="1004.10" stroke="#231f20" stroke-width="1.2"/>
<line x1="400.90" y1="999.60" x2="400.90" y2="1004.10" stroke="#231f20" stroke-width="1.2"/>
<line x1="462.90" y1="999.60" x2="462.90" y2="1004.10" stroke="#231f20" stroke-width="1.2"/>
<text x="277.00" y="935.60" font-size="13" text-anchor="middle" textLength="120.30" lengthAdjust="spacingAndGlyphs" transform="rotate(-90 277.00 935.60)">Relative cell number</text>
<rect x="415.60" y="876.70" width="14.40" height="5.40" fill="#4e6381"/>
<text x="434.90" y="882.90" font-size="10" textLength="35.20" lengthAdjust="spacingAndGlyphs">LV/MCS</text>
<rect x="415.60" y="893.40" width="14.40" height="5.40" fill="#a03444"/>
<text x="434.90" y="899.60" font-size="10" textLength="53.80" lengthAdjust="spacingAndGlyphs">LV/TuD-155</text>
<line x1="328.55" y1="913.30" x2="328.55" y2="918.00" stroke="#231f20" stroke-width="1.4"/>
<line x1="323.55" y1="913.30" x2="333.55" y2="913.30" stroke="#231f20" stroke-width="1.4"/>
<rect x="319.90" y="918.30" width="17.70" height="81.30" fill="#4e6381" stroke="rgba(20,20,30,0.35)" stroke-width="0.7"/>
<line x1="350.40" y1="903.80" x2="350.40" y2="918.00" stroke="#231f20" stroke-width="1.4"/>
<line x1="345.40" y1="903.80" x2="355.40" y2="903.80" stroke="#231f20" stroke-width="1.4"/>
<rect x="341.60" y="918.30" width="18.00" height="81.30" fill="#a03444" stroke="rgba(20,20,30,0.35)" stroke-width="0.7"/>
<line x1="390.05" y1="944.60" x2="390.05" y2="956.10" stroke="#231f20" stroke-width="1.4"/>
<line x1="385.05" y1="944.60" x2="395.05" y2="944.60" stroke="#231f20" stroke-width="1.4"/>
<rect x="381.30" y="956.40" width="17.90" height="43.20" fill="#4e6381" stroke="rgba(20,20,30,0.35)" stroke-width="0.7"/>
<line x1="412.20" y1="950.40" x2="412.20" y2="959.60" stroke="#231f20" stroke-width="1.4"/>
<line x1="407.20" y1="950.40" x2="417.20" y2="950.40" stroke="#231f20" stroke-width="1.4"/>
<rect x="403.40" y="959.90" width="18.00" height="39.70" fill="#a03444" stroke="rgba(20,20,30,0.35)" stroke-width="0.7"/>
<line x1="451.85" y1="983.50" x2="451.85" y2="986.10" stroke="#231f20" stroke-width="1.4"/>
<line x1="446.85" y1="983.50" x2="456.85" y2="983.50" stroke="#231f20" stroke-width="1.4"/>
<rect x="443.10" y="986.40" width="17.90" height="13.20" fill="#4e6381" stroke="rgba(20,20,30,0.35)" stroke-width="0.7"/>
<line x1="473.55" y1="986.40" x2="473.55" y2="989.00" stroke="#231f20" stroke-width="1.4"/>
<line x1="468.55" y1="986.40" x2="478.55" y2="986.40" stroke="#231f20" stroke-width="1.4"/>
<rect x="464.90" y="989.30" width="17.70" height="10.30" fill="#a03444" stroke="rgba(20,20,30,0.35)" stroke-width="0.7"/>
<text x="339.40" y="1019.30" font-size="11" text-anchor="middle" textLength="40.00" lengthAdjust="spacingAndGlyphs">0µg/mL</text>
<text x="400.50" y="1019.30" font-size="11" text-anchor="middle" textLength="26.50" lengthAdjust="spacingAndGlyphs">0.001</text>
<text x="400.50" y="1033.20" font-size="11" text-anchor="middle" textLength="33.50" lengthAdjust="spacingAndGlyphs">µg/mL</text>
<text x="462.30" y="1019.30" font-size="11" text-anchor="middle" textLength="32.60" lengthAdjust="spacingAndGlyphs">0.0015</text>
<text x="462.30" y="1033.20" font-size="11" text-anchor="middle" textLength="32.80" lengthAdjust="spacingAndGlyphs">µg/mL</text>
</svg>
</body></html>
